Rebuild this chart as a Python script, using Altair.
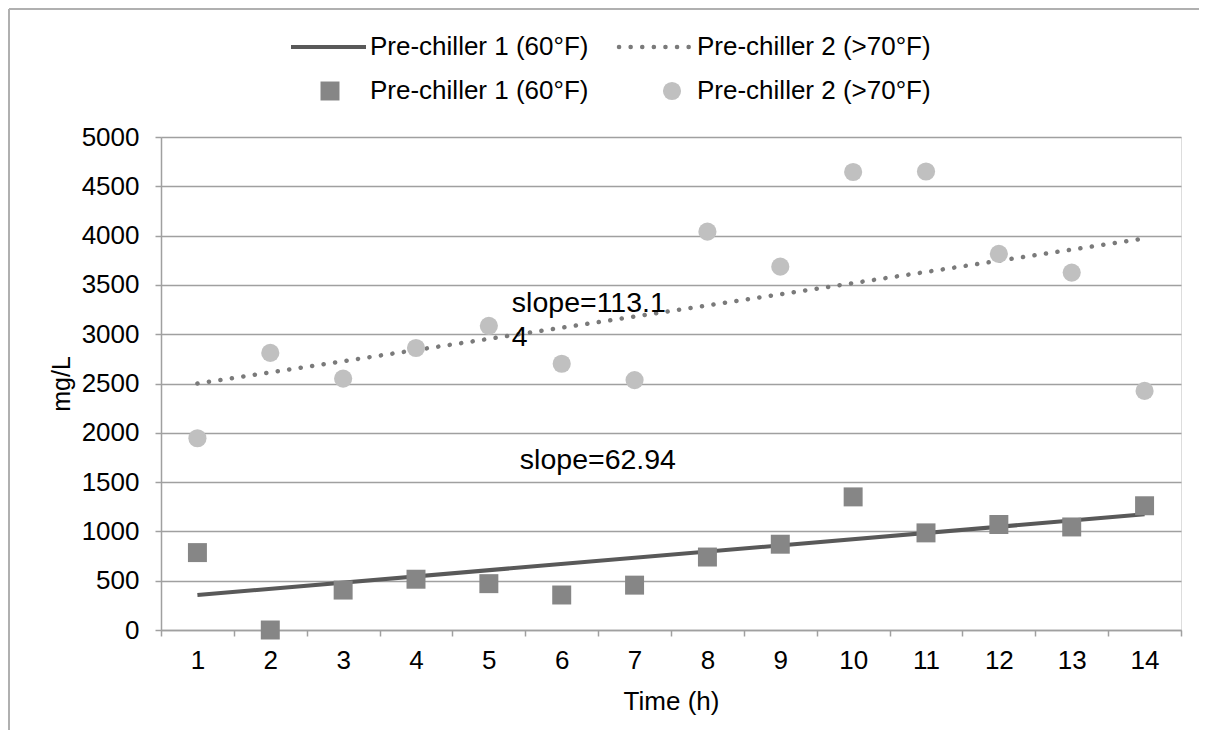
import altair as alt
import pandas as pd

# ---- data ----
time_h = list(range(1, 15))
pre1 = [785, 0, 405, 515, 470, 355, 455, 740, 870, 1350, 985, 1070, 1045, 1260]
pre2 = [1945, 2810, 2550, 2860, 3085, 2700, 2535, 4040, 3685, 4645, 4650, 3815, 3625, 2425]
trend_x = [1, 14]
trend1 = [355, 1173]
trend2 = [2500, 3971]
series1 = "Pre-chiller 1 (60°F)"
series2 = "Pre-chiller 2 (>70°F)"
notes_a = [("slope=113.1", 5, 3316), ("4", 5, 2972)]
notes_b = [("slope=62.94", 5, 1724)]

FONT = "Liberation Sans"
FS = 26
TFS = 26
AFS = 28.5

pts = pd.DataFrame({"time": time_h * 2,
                    "value": pre1 + pre2,
                    "series": [series1] * 14 + [series2] * 14})
tr1 = pd.DataFrame({"time": trend_x, "value": trend1})
tr2 = pd.DataFrame({"time": trend_x, "value": trend2})
notes_a_df = pd.DataFrame(notes_a, columns=["label", "time", "value"])
notes_b_df = pd.DataFrame(notes_b, columns=["label", "time", "value"])

x_enc = alt.X("time:O",
              scale=alt.Scale(domain=time_h, paddingInner=0, paddingOuter=0),
              axis=alt.Axis(title="Time (h)", labelAngle=0, tickBand="extent",
                            tickSize=6, labelPadding=11, titlePadding=15,
                            domainColor="#a0a0a0", tickColor="#a0a0a0",
                            domainWidth=1.5, tickWidth=1.5,
                            labelFontSize=FS, titleFontSize=TFS,
                            labelFont=FONT, titleFont=FONT, labelColor="black",
                            titleColor="black", titleFontWeight="normal", grid=False))
y_enc = alt.Y("value:Q",
              scale=alt.Scale(domain=[0, 5000], nice=False),
              axis=alt.Axis(title="mg/L", values=list(range(0, 5001, 500)), format="d",
                            tickSize=6, labelPadding=16, titlePadding=7,
                            domainColor="#a0a0a0", tickColor="#a0a0a0",
                            gridColor="#a0a0a0", gridWidth=1.5,
                            domainWidth=1.5, tickWidth=1.5,
                            labelFontSize=FS, titleFontSize=25,
                            labelFont=FONT, titleFont=FONT, labelColor="black",
                            titleColor="black", titleFontWeight="normal"))

line1 = alt.Chart(tr1).mark_line(color="#595959", strokeWidth=4).encode(x=x_enc, y=y_enc)
line2 = alt.Chart(tr2).mark_line(color="#7a7a7a", strokeWidth=4.5, strokeDash=[0.1, 11.5],
                                 strokeCap="round").encode(x=x_enc, y=y_enc)
sq = alt.Chart(pts).transform_filter(alt.datum.series == series1).mark_point(
    shape="square", filled=True, size=360, color="#868686", opacity=1).encode(x=x_enc, y=y_enc)
ci = alt.Chart(pts).transform_filter(alt.datum.series == series2).mark_point(
    shape="circle", filled=True, size=330, color="#c0c0c0", opacity=1).encode(x=x_enc, y=y_enc)
txt_a = alt.Chart(notes_a_df).mark_text(align="left", baseline="middle", dx=23,
                                        font=FONT, fontSize=AFS, color="black").encode(
    x=x_enc, y=y_enc, text="label:N")
txt_b = alt.Chart(notes_b_df).mark_text(align="left", baseline="middle", dx=31,
                                        font=FONT, fontSize=AFS, color="black").encode(
    x=x_enc, y=y_enc, text="label:N")

one = pd.DataFrame({"a": [0]})
# legend (manual, two rows)
leg = [
    alt.Chart(one).mark_rule(color="#595959", strokeWidth=4).encode(
        x=alt.value(130), x2=alt.value(205), y=alt.value(-90)),
    alt.Chart(one).mark_rule(color="#7a7a7a", strokeWidth=4.5, strokeDash=[0.1, 11.5],
                             strokeCap="round").encode(
        x=alt.value(458), x2=alt.value(528), y=alt.value(-90)),
    alt.Chart(one).mark_point(shape="square", filled=True, size=360, color="#868686",
                              opacity=1).encode(x=alt.value(169), y=alt.value(-46)),
    alt.Chart(one).mark_point(shape="circle", filled=True, size=330, color="#c0c0c0",
                              opacity=1).encode(x=alt.value(511), y=alt.value(-46)),
]
for (lx, ly, lt) in [(209, -90, series1), (536, -90, series2),
                     (209, -46, series1), (536, -46, series2)]:
    leg.append(alt.Chart(one).mark_text(align="left", baseline="middle", font=FONT,
                                        fontSize=FS, color="black").encode(
        x=alt.value(lx), y=alt.value(ly), text=alt.value(lt)))

# outer chart border (top and left)
border = [
    alt.Chart(one).mark_rule(color="#b0b0b0", strokeWidth=2).encode(
        x=alt.value(-152), x2=alt.value(1038), y=alt.value(-128)),
    alt.Chart(one).mark_rule(color="#b0b0b0", strokeWidth=2).encode(
        x=alt.value(-152), y=alt.value(-128), y2=alt.value(600)),
]

chart = alt.layer(line1, line2, sq, ci, txt_a, txt_b, *leg, *border).properties(
    width=1020, height=493,
    padding={"left": 153, "top": 129, "right": 18, "bottom": 100},
    autosize=alt.AutoSizeParams(type="none"),
).configure_view(stroke=None).configure(background="white")

chart.save("out.html", embed_options={"renderer": "svg", "actions": False})
